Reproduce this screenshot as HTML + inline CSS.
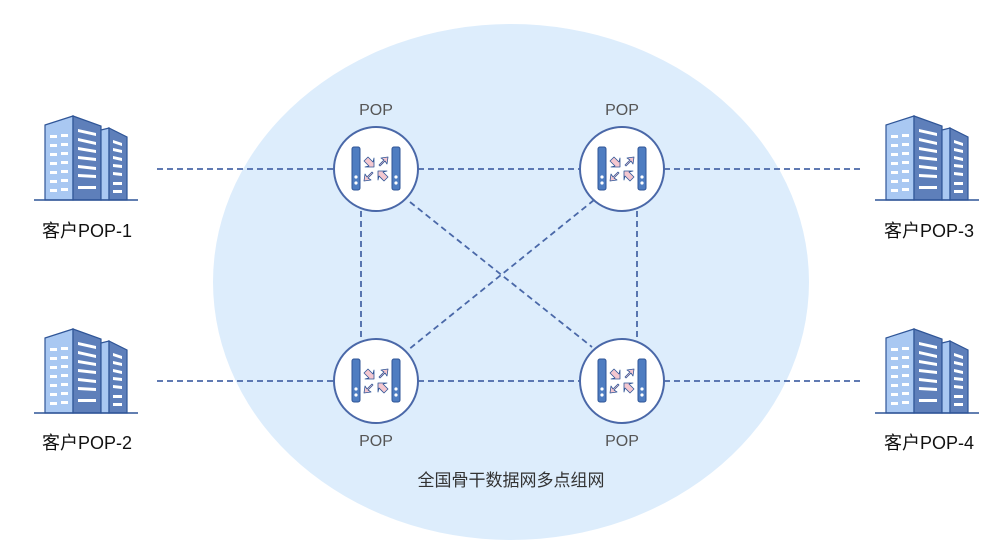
<!DOCTYPE html>
<html><head><meta charset="utf-8"><style>
html,body{margin:0;padding:0;background:#fff;}
svg{display:block;}
text{font-family:"Liberation Sans","Noto Sans CJK SC",sans-serif;}
</style></head><body>
<svg width="1000" height="556" viewBox="0 0 1000 556" xmlns="http://www.w3.org/2000/svg">
<defs>
<g id="bld">
  <polygon points="0,-75 28,-84 28,0 0,0" fill="#a9c8f2" stroke="#2f5597" stroke-width="1.2"/>
  <polygon points="28,-84 56,-74 56,0 28,0" fill="#5e7fba" stroke="#2f5597" stroke-width="1.2"/>
  <polygon points="56,-70 64,-72 64,0 56,0" fill="#a9c8f2" stroke="#2f5597" stroke-width="1.2"/>
  <polygon points="64,-72 82,-63 82,0 64,0" fill="#5e7fba" stroke="#2f5597" stroke-width="1.2"/>
  <g fill="#fff">
    <rect x="5" y="-65" width="7" height="3"/><rect x="16" y="-66" width="7" height="3"/>
    <rect x="5" y="-56" width="7" height="3"/><rect x="16" y="-57" width="7" height="3"/>
    <rect x="5" y="-47" width="7" height="3"/><rect x="16" y="-48" width="7" height="3"/>
    <rect x="5" y="-38" width="7" height="3"/><rect x="16" y="-39" width="7" height="3"/>
    <rect x="5" y="-29" width="7" height="3"/><rect x="16" y="-30" width="7" height="3"/>
    <rect x="5" y="-20" width="7" height="3"/><rect x="16" y="-21" width="7" height="3"/>
    <rect x="5" y="-11" width="7" height="3"/><rect x="16" y="-12" width="7" height="3"/>
    <polygon points="33,-71 51,-67 51,-64 33,-68"/>
    <polygon points="33,-62 51,-58 51,-55 33,-59"/>
    <polygon points="33,-53 51,-50 51,-47 33,-50"/>
    <polygon points="33,-44 51,-42 51,-39 33,-41"/>
    <polygon points="33,-35 51,-33 51,-30 33,-32"/>
    <polygon points="33,-26 51,-25 51,-22 33,-23"/>
    <rect x="33" y="-14" width="18" height="3"/>
    <polygon points="68,-60 77,-57 77,-54 68,-57"/>
    <polygon points="68,-52 77,-50 77,-47 68,-49"/>
    <polygon points="68,-44 77,-42 77,-39 68,-41"/>
    <polygon points="68,-36 77,-35 77,-32 68,-33"/>
    <polygon points="68,-28 77,-27 77,-24 68,-25"/>
    <rect x="68" y="-18" width="9" height="3"/>
    <rect x="68" y="-10" width="9" height="3"/>
  </g>
  <line x1="-11" y1="0" x2="93" y2="0" stroke="#2f5597" stroke-width="1.5"/>
</g>
<g id="arr">
  <polygon points="-2,-2 -12,-12 -14,-5 -9,-9 -16,-14 -12,-16 -5,-9" fill="#f4c7cf" stroke="#2f5597" stroke-width="0.8" stroke-linejoin="round"/>
</g>
<g id="node">
  <circle r="42" fill="#fff" stroke="#4a68a8" stroke-width="2"/>
  <rect x="-24" y="-22" width="8" height="43" rx="2" fill="#4f7dc1" stroke="#2f5597" stroke-width="1"/>
  <rect x="16" y="-22" width="8" height="43" rx="2" fill="#4f7dc1" stroke="#2f5597" stroke-width="1"/>
  <circle cx="-20" cy="8" r="1.6" fill="#fff"/><circle cx="-20" cy="14" r="1.6" fill="#fff"/>
  <circle cx="20" cy="8" r="1.6" fill="#fff"/><circle cx="20" cy="14" r="1.6" fill="#fff"/>
  <g fill="#f4c7cf" stroke="#2f5597" stroke-width="0.8" stroke-linejoin="round">
    <polygon points="-12,-8 -8,-12 -3,-7 -2,-11 -2,-2 -11,-2 -7,-3"/>
    <polygon points="12,8 8,12 3,7 2,11 2,2 11,2 7,3"/>
    <polygon points="3,-4 8,-9 5,-11 12,-12 11,-5 9,-8 4,-3"/>
    <polygon points="-3,4 -8,9 -5,11 -12,12 -11,5 -9,8 -4,3"/>
  </g>
</g>
</defs>
<ellipse cx="511" cy="282" rx="298" ry="258" fill="#ddedfc"/>
<g stroke="#4a68a8" stroke-width="1.8" stroke-dasharray="6,4" fill="none">
  <line x1="157" y1="169" x2="334" y2="169"/>
  <line x1="157" y1="381" x2="334" y2="381"/>
  <line x1="664" y1="169" x2="862" y2="169"/>
  <line x1="664" y1="381" x2="862" y2="381"/>
  <line x1="418" y1="169" x2="580" y2="169"/>
  <line x1="418" y1="381" x2="580" y2="381"/>
  <line x1="361" y1="211" x2="361" y2="340"/>
  <line x1="637" y1="211" x2="637" y2="340"/>
  <line x1="410" y1="202" x2="592" y2="347"/>
  <line x1="594" y1="200" x2="408" y2="350"/>
</g>
<use href="#node" x="376" y="169"/>
<use href="#node" x="622" y="169"/>
<use href="#node" x="376" y="381"/>
<use href="#node" x="622" y="381"/>
<use href="#bld" x="45" y="200"/>
<use href="#bld" x="45" y="413"/>
<use href="#bld" x="886" y="200"/>
<use href="#bld" x="886" y="413"/>
<g font-size="16" fill="#555" text-anchor="middle">
  <text x="376" y="115">POP</text>
  <text x="622" y="115">POP</text>
  <text x="376" y="446">POP</text>
  <text x="622" y="446">POP</text>
</g>
<g font-size="18" fill="#111" text-anchor="middle">
  <text x="87" y="237">客户POP-1</text>
  <text x="87" y="449">客户POP-2</text>
  <text x="929" y="237">客户POP-3</text>
  <text x="929" y="449">客户POP-4</text>
</g>
<text x="511" y="486" font-size="17" fill="#333" text-anchor="middle">全国骨干数据网多点组网</text>
</svg>
</body></html>
